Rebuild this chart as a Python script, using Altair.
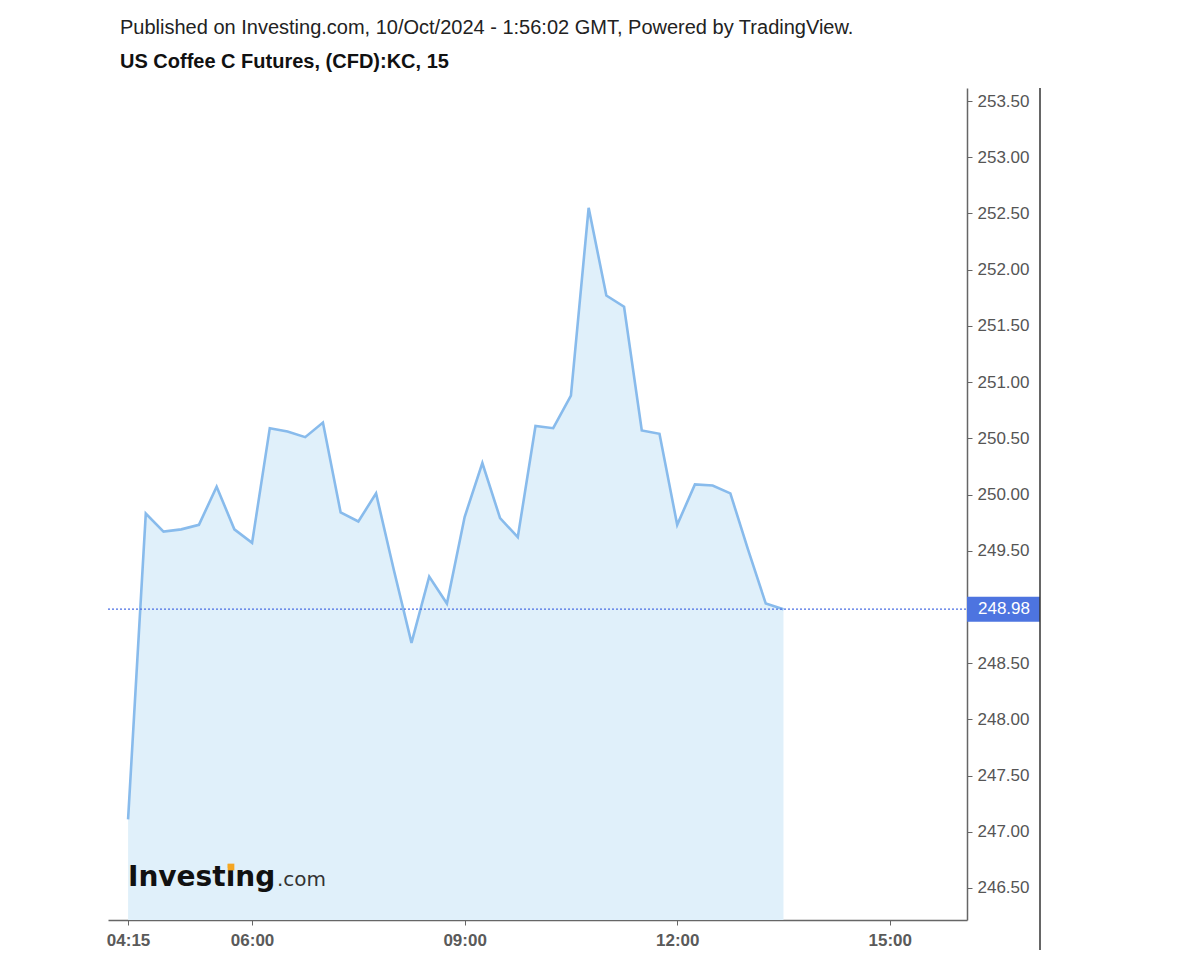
import altair as alt
import pandas as pd

times = ["04:15","04:30","04:45","05:00","05:15","05:30","05:45","06:00","06:15","06:30",
         "06:45","07:00","07:15","07:30","07:45","08:00","08:15","08:30","08:45","09:00",
         "09:15","09:30","09:45","10:00","10:15","10:30","10:45","11:00","11:15","11:30",
         "11:45","12:00","12:15","12:30","12:45","13:00","13:15","13:30"]
prices = [247.11,249.83,249.67,249.69,249.73,250.07,249.69,249.57,250.59,250.56,
          250.51,250.64,249.84,249.76,250.01,249.33,248.68,249.27,249.03,249.80,
          250.28,249.79,249.62,250.61,250.59,250.88,252.55,251.77,251.67,250.57,
          250.54,249.73,250.09,250.08,250.01,249.51,249.03,248.98]
last_price = [248.98]
y_ticks = [246.5,247.0,247.5,248.0,248.5,249.5,250.0,250.5,251.0,251.5,252.0,252.5,253.0,253.5]
x_tick_labels = ["04:15","06:00","09:00","12:00","15:00"]
title1 = "Published on Investing.com, 10/Oct/2024 - 1:56:02 GMT, Powered by TradingView."
title2 = "US Coffee C Futures, (CFD):KC, 15"

def to_min(s):
    h, m = s.split(":")
    return int(h) * 60 + int(m)

df = pd.DataFrame({"t": [to_min(s) for s in times], "price": prices})
last_df = pd.DataFrame({"price": last_price, "label": [f"{last_price[0]:.2f}"]})

W, H = 859, 832
FONT = "Liberation Sans"

xscale = alt.Scale(domain=[238, 965.4], nice=False, zero=False)
yscale = alt.Scale(domain=[246.215, 253.616], nice=False, zero=False)

xaxis = alt.Axis(values=[to_min(s) for s in x_tick_labels],
                 labelExpr="pad(floor(datum.value/60),2,'0','left') + ':' + pad(datum.value%60,2,'0','left')",
                 title=None, grid=False, domainColor="#666", tickColor="#666", tickSize=5,
                 labelColor="#5a5a5a", labelFont=FONT, labelFontSize=17, labelFontWeight="bold",
                 labelPadding=7, domainWidth=1.5, labelFlush=False)
yaxis = alt.Axis(orient="right", values=y_ticks, format=".2f", title=None, grid=False,
                 domainColor="#666", tickColor="#666", tickSize=5, domainWidth=1.5,
                 labelColor="#555", labelFont=FONT, labelFontSize=17, labelPadding=5,
                 labelBaseline="middle")

base = alt.Chart(df)
area = base.mark_area(color="#e0f0fa", clip=True).encode(
    x=alt.X("t:Q", scale=xscale, axis=xaxis),
    y=alt.Y("price:Q", scale=yscale, axis=yaxis),
    y2=alt.value(H),
)
line = base.mark_line(color="#88bbec", strokeWidth=2.6, clip=True).encode(
    x=alt.X("t:Q", scale=xscale),
    y=alt.Y("price:Q", scale=yscale),
)

lc = alt.Chart(last_df)
dotted = lc.mark_rule(color="#4a6fe3", strokeDash=[2, 2], strokeWidth=1.2).encode(
    y=alt.Y("price:Q", scale=yscale), x=alt.value(0), x2=alt.value(W))
box = lc.mark_rule(color="#4d74e0", strokeWidth=25, strokeCap="butt").encode(
    y=alt.Y("price:Q", scale=yscale), x=alt.value(W), x2=alt.value(W + 73))
box_text = lc.mark_text(color="white", font=FONT, fontSize=17, align="left", baseline="middle").encode(
    y=alt.Y("price:Q", scale=yscale), x=alt.value(W + 11), text="label:N")

right_line = alt.Chart(last_df).mark_rule(color="#333", strokeWidth=1.5).encode(
    x=alt.value(W + 73), y=alt.value(0), y2=alt.value(H + 32))

t1 = alt.Chart(pd.DataFrame({"s": [title1]})).mark_text(
    font=FONT, fontSize=20, align="left", baseline="alphabetic", color="#222"
).encode(x=alt.value(12), y=alt.value(-54), text="s:N")
t2 = alt.Chart(pd.DataFrame({"s": [title2]})).mark_text(
    font=FONT, fontSize=20, fontWeight="bold", align="left",
    baseline="alphabetic", color="#111"
).encode(x=alt.value(12), y=alt.value(-20), text="s:N")

logo1 = alt.Chart(pd.DataFrame({"s": ["Investing"]})).mark_text(
    font="DejaVu Sans", fontSize=28, fontWeight="bold", align="left", baseline="alphabetic",
    color="#111"
).encode(x=alt.value(20), y=alt.value(798), text="s:N")
logo2 = alt.Chart(pd.DataFrame({"s": [".com"]})).mark_text(
    font="DejaVu Sans", fontSize=20, align="left", baseline="alphabetic", color="#333"
).encode(x=alt.value(169), y=alt.value(798), text="s:N")
logo_dot = alt.Chart(pd.DataFrame({"s": ["dot"]})).mark_point(
    shape="square", filled=True, size=45, color="#f5a623", opacity=1
).encode(x=alt.value(123), y=alt.value(779))

chart = alt.layer(area, line, dotted, box, box_text, right_line, t1, t2,
                  logo1, logo2, logo_dot).properties(
    width=W, height=H,
    background="white",
    autosize=alt.AutoSizeParams(type="none"),
    padding={"left": 100, "top": 80, "right": 150, "bottom": 30},
).configure_view(stroke=None)

chart.save("out.html", embed_options={"renderer": "svg", "actions": False})
